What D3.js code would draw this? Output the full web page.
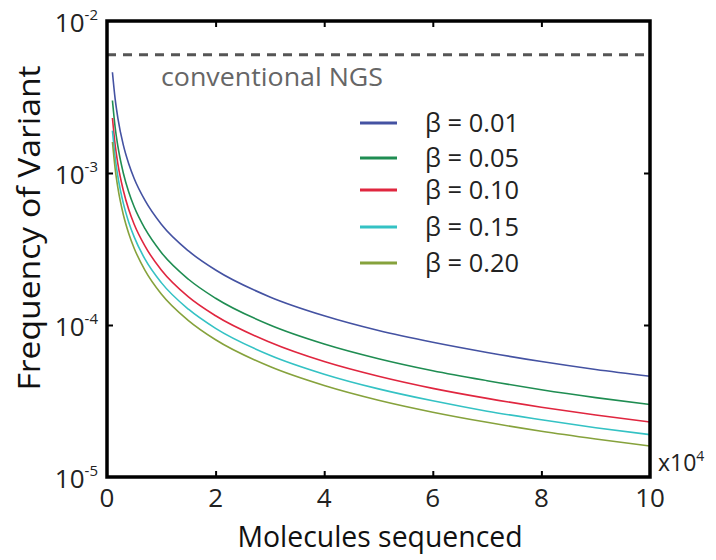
<!DOCTYPE html>
<html><head><meta charset="utf-8">
<script src="https://cdn.jsdelivr.net/npm/d3@7"></script>
<style>body{margin:0;background:#fff}svg{display:block}text{font-family:"Open Sans",sans-serif}</style>
</head><body><svg id="c" width="716" height="560"></svg>
<script>
const molecules = [1000,1500,2000,3000,4000,5000,7000,10000,15000,20000,30000,40000,50000,60000,70000,80000,90000,100000];
const beta001 = [4.6e-3,3.07e-3,2.3e-3,1.53e-3,1.15e-3,9.2e-4,6.6e-4,4.6e-4,3.07e-4,2.3e-4,1.53e-4,1.15e-4,9.2e-5,7.7e-5,6.6e-5,5.75e-5,5.1e-5,4.6e-5];
const beta005 = [3.0e-3,2.0e-3,1.5e-3,1.0e-3,7.5e-4,6.0e-4,4.3e-4,3.0e-4,2.0e-4,1.5e-4,1.0e-4,7.5e-5,6.0e-5,5.0e-5,4.3e-5,3.75e-5,3.33e-5,3.0e-5];
const beta010 = [2.3e-3,1.53e-3,1.15e-3,7.7e-4,5.75e-4,4.6e-4,3.3e-4,2.3e-4,1.53e-4,1.15e-4,7.7e-5,5.75e-5,4.6e-5,3.83e-5,3.29e-5,2.88e-5,2.56e-5,2.3e-5];
const beta015 = [1.9e-3,1.27e-3,9.5e-4,6.33e-4,4.75e-4,3.8e-4,2.71e-4,1.9e-4,1.27e-4,9.5e-5,6.33e-5,4.75e-5,3.8e-5,3.17e-5,2.71e-5,2.38e-5,2.11e-5,1.9e-5];
const beta020 = [1.6e-3,1.07e-3,8.0e-4,5.33e-4,4.0e-4,3.2e-4,2.29e-4,1.6e-4,1.07e-4,8.0e-5,5.33e-5,4.0e-5,3.2e-5,2.67e-5,2.29e-5,2.0e-5,1.78e-5,1.6e-5];
const seriesLabels = ["β = 0.01","β = 0.05","β = 0.10","β = 0.15","β = 0.20"];
const seriesColors = ["#4452a2","#1f8d52","#e0263f","#34c2c4","#86a23c"];
const ngsLevel = 0.006;
const xTicks = [0,2,4,6,8,10];
const yExps = [-2,-3,-4,-5];

const series = [beta001,beta005,beta010,beta015,beta020];
const L=107,R=650,T=21,B=477;
const svg=d3.select("#c");
const x=d3.scaleLinear().domain([0,100000]).range([L,R]);
const y=d3.scaleLog().domain([1e-5,1e-2]).range([B,T]);

const line=d3.line().x((d,i)=>x(molecules[i])).y(d=>y(d)).curve(d3.curveMonotoneX);
svg.append("g").selectAll("path").data(series).join("path")
 .attr("d",line).attr("fill","none").attr("stroke",(d,i)=>seriesColors[i]).attr("stroke-width",1.6);

svg.append("line").attr("x1",L).attr("x2",R).attr("y1",y(ngsLevel)).attr("y2",y(ngsLevel))
 .attr("stroke","#555").attr("stroke-width",3).attr("stroke-dasharray","9,7");
svg.append("text").attr("x",161).attr("y",y(ngsLevel)+31).attr("font-size",25).attr("fill","#666")
 .attr("textLength",222).attr("lengthAdjust","spacingAndGlyphs").text("conventional NGS");

const xt4=xTicks.slice(1,-1).map(v=>v*1e4);
[[d3.axisBottom(x).tickValues(xt4),`translate(0,${B})`],[d3.axisTop(x).tickValues(xt4),`translate(0,${T})`],
 [d3.axisLeft(y).tickValues([1e-3,1e-4]),`translate(${L},0)`],[d3.axisRight(y).tickValues([1e-3,1e-4]),`translate(${R},0)`]].forEach(([a,t])=>{
 const ga=svg.append("g").attr("transform",t).call(a.tickSize(-6).tickFormat(""));
 ga.select(".domain").remove();
 ga.selectAll("line").attr("stroke","#000").attr("stroke-width",2);
});
svg.append("rect").attr("x",L).attr("y",T).attr("width",R-L).attr("height",B-T)
 .attr("fill","none").attr("stroke","#000").attr("stroke-width",3.5);

svg.selectAll("text.xt").data(xTicks).join("text").attr("class","xt")
 .attr("x",d=>x(d*1e4)).attr("y",B+30).attr("text-anchor","middle").attr("font-size",26).attr("fill","#222").text(d=>d);
yExps.forEach(e=>{
 const t=svg.append("text").attr("x",L-9).attr("y",y(Math.pow(10,e))+11).attr("text-anchor","end").attr("fill","#222");
 t.append("tspan").attr("font-size",26).text("10");
 t.append("tspan").attr("font-size",15).attr("dy",-12).text(e);
});
const m=svg.append("text").attr("x",658).attr("y",471).attr("fill","#222");
m.append("tspan").attr("font-size",23).text("x10");
m.append("tspan").attr("font-size",14).attr("dy",-10).text("4");

svg.append("text").attr("x",380).attr("y",547).attr("text-anchor","middle").attr("font-size",29).attr("fill","#111")
 .attr("textLength",285).attr("lengthAdjust","spacingAndGlyphs").text("Molecules sequenced");
svg.append("text").attr("transform",`translate(40,228) rotate(-90)`).attr("text-anchor","middle").attr("font-size",31).attr("fill","#111")
 .attr("textLength",325).attr("lengthAdjust","spacingAndGlyphs").text("Frequency of Variant");

seriesLabels.forEach((s,i)=>{
 const yy=[123,158,190,227,263][i];
 svg.append("line").attr("x1",360).attr("x2",397).attr("y1",yy).attr("y2",yy).attr("stroke",seriesColors[i]).attr("stroke-width",3);
 svg.append("text").attr("x",425).attr("y",yy+9).attr("font-size",25).attr("fill","#222")
  .attr("textLength",94).attr("lengthAdjust","spacingAndGlyphs").text(s);
});
</script></body></html>
